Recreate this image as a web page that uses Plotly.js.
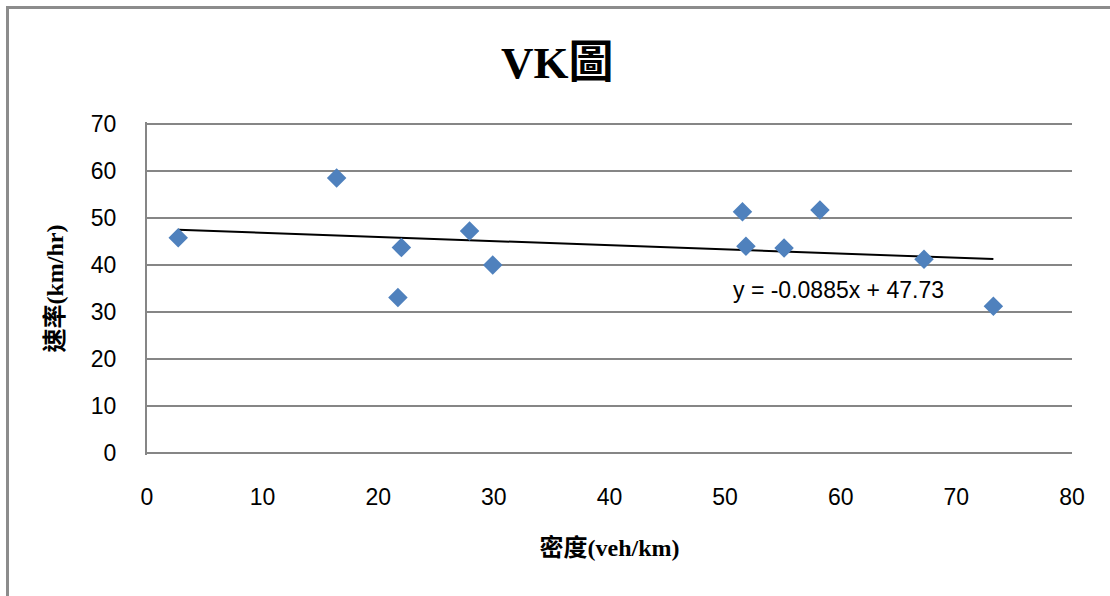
<!DOCTYPE html>
<html>
<head>
<meta charset="utf-8">
<script src="https://cdn.plot.ly/plotly-3.0.1.min.js"></script>
<style>
  html, body { margin: 0; padding: 0; background: #fff; }
  #wrap { position: relative; width: 1110px; height: 596px; overflow: hidden; }
  #frame { position: absolute; left: 6px; top: 6px; width: 1200px; height: 700px;
           border-top: 3px solid #8c8c8c; border-left: 3px solid #8c8c8c; pointer-events: none; }
  #chart { position: absolute; left: 0; top: 0; width: 1110px; height: 596px; }
</style>
</head>
<body>
<div id="wrap">
  <div id="chart"></div>
  <div id="frame"></div>
</div>
<script>
// Data
const density = [2.7, 16.4, 22.0, 21.7, 27.9, 29.9, 51.5, 51.8, 55.1, 58.2, 67.2, 73.2];
const speed   = [45.8, 58.5, 43.7, 33.1, 47.2, 40.0, 51.3, 44.0, 43.6, 51.7, 41.2, 31.2];
const trendSlope = -0.0885;
const trendIntercept = 47.73;
const trendLabel = "y = -0.0885x + 47.73";
const xTicks = [0, 10, 20, 30, 40, 50, 60, 70, 80];
const yTicks = [0, 10, 20, 30, 40, 50, 60, 70];

const xMin = Math.min(...density), xMax = Math.max(...density);
const trendX = [xMin, xMax];
const trendY = trendX.map(v => trendSlope * v + trendIntercept);

const serif = "'Liberation Serif', 'Times New Roman', 'Noto Sans CJK TC', serif";
const sans = "'Liberation Sans', Arial, sans-serif";

const traces = [
  {
    x: trendX, y: trendY, type: 'scatter', mode: 'lines',
    line: { color: '#000000', width: 2 }, hoverinfo: 'skip', showlegend: false
  },
  {
    x: density, y: speed, type: 'scatter', mode: 'markers',
    marker: { symbol: 'diamond', size: 15, color: '#4F81BD', line: { width: 0 } },
    showlegend: false
  }
];

const layout = {
  width: 1110, height: 596,
  paper_bgcolor: '#ffffff', plot_bgcolor: '#ffffff',
  margin: { l: 147, r: 38, t: 122, b: 141 },
  title: {
    text: '<b>VK圖</b>',
    font: { family: serif, size: 45, color: '#000' },
    x: 0.502, xanchor: 'center', y: 1 - 62 / 596, yanchor: 'middle', yref: 'container'
  },
  xaxis: {
    range: [0, 80], tickvals: xTicks, ticktext: xTicks.map(String),
    showgrid: false, zeroline: false, showline: false,
    ticks: 'outside', ticklen: 21, tickcolor: 'rgba(0,0,0,0)',
    tickfont: { family: sans, size: 23, color: '#000' },
    title: { text: '<b>密度(veh/km)</b>', font: { family: serif, size: 24, color: '#000' }, standoff: 30 },
    automargin: false, fixedrange: true
  },
  yaxis: {
    range: [-0.4, 70.4], tickvals: yTicks, ticktext: yTicks.map(String),
    showgrid: true, gridcolor: '#868686', gridwidth: 2,
    zeroline: false, showline: true, linecolor: '#868686', linewidth: 2,
    ticks: 'outside', ticklen: 24, tickcolor: 'rgba(0,0,0,0)',
    tickfont: { family: sans, size: 23, color: '#000' },
    title: { text: '<b>速率(km/hr)</b>', font: { family: serif, size: 24, color: '#000' }, standoff: 20 },
    automargin: false, fixedrange: true
  },
  annotations: [
    {
      text: trendLabel, xref: 'x', yref: 'y',
      x: 59.8, y: 34.7, xanchor: 'center', yanchor: 'middle',
      showarrow: false, font: { family: sans, size: 23, color: '#000' }
    }
  ]
};

Plotly.newPlot('chart', traces, layout, { displayModeBar: false, staticPlot: true });
</script>
</body>
</html>
